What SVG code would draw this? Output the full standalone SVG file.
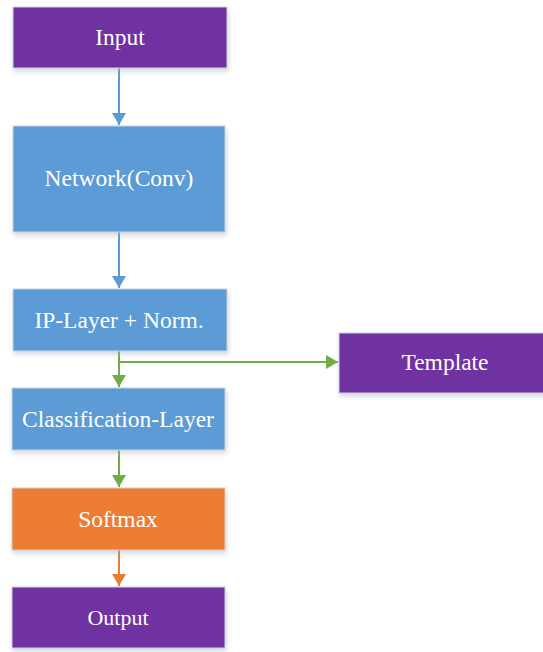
<svg xmlns="http://www.w3.org/2000/svg" width="543" height="652" viewBox="0 0 543 652">
<defs>
<filter id="sh" x="-10%" y="-10%" width="130%" height="140%">
<feDropShadow dx="1" dy="3" stdDeviation="2.5" flood-color="#9ab" flood-opacity="0.45"/>
</filter>
<marker id="ab" viewBox="0 0 12 14" refX="12" refY="7" markerWidth="12" markerHeight="14" markerUnits="userSpaceOnUse" orient="auto"><path d="M0,0 L12,7 L0,14 Z" fill="#5B9BD5"/></marker>
<marker id="ag" viewBox="0 0 12 14" refX="12" refY="7" markerWidth="12" markerHeight="14" markerUnits="userSpaceOnUse" orient="auto"><path d="M0,0 L12,7 L0,14 Z" fill="#70AD47"/></marker>
<marker id="ao" viewBox="0 0 12 14" refX="12" refY="7" markerWidth="12" markerHeight="14" markerUnits="userSpaceOnUse" orient="auto"><path d="M0,0 L12,7 L0,14 Z" fill="#ED7D31"/></marker>
</defs>
<style>
.box{stroke:#d0d4da;stroke-width:1;filter:url(#sh)}
.p{fill:#7030A0}.b{fill:#5B9BD5}.o{fill:#ED7D31}
.t{font-size:23.5px;fill:#fff;text-anchor:middle}
.c{fill:none;stroke-width:2}
</style>
<g id="connectors">
<path class="c" d="M119,68 V125" stroke="#5B9BD5" marker-end="url(#ab)"/>
<path class="c" d="M119,232 V288" stroke="#5B9BD5" marker-end="url(#ab)"/>
<path class="c" d="M119,351 V387" stroke="#70AD47" marker-end="url(#ag)"/>
<path class="c" d="M119,362 H338" stroke="#70AD47" marker-end="url(#ag)"/>
<path class="c" d="M119,450 V487" stroke="#70AD47" marker-end="url(#ag)"/>
<path class="c" d="M119,550 V586" stroke="#ED7D31" marker-end="url(#ao)"/>
</g>
<g font-family="'Liberation Serif', 'Times New Roman', serif">
<g id="input"><rect class="box p" x="13" y="7" width="214" height="61"/><text class="t" x="120" y="45">Input</text></g>
<g id="network"><rect class="box b" x="13" y="126" width="212" height="106"/><text class="t" x="119" y="186">Network(Conv)</text></g>
<g id="iplayer"><rect class="box b" x="13" y="289" width="214" height="62"/><text class="t" x="119" y="328">IP-Layer + Norm.</text></g>
<g id="template"><rect class="box p" x="339" y="333" width="210" height="60"/><text class="t" x="445" y="370">Template</text></g>
<g id="classification"><rect class="box b" x="12" y="388" width="213" height="62"/><text class="t" x="118" y="427">Classification-Layer</text></g>
<g id="softmax"><rect class="box o" x="12" y="488" width="213" height="62"/><text class="t" x="118" y="527">Softmax</text></g>
<g id="output"><rect class="box p" x="12" y="587" width="213" height="61"/><text class="t" x="118" y="625" style="font-size:22px">Output</text></g>
</g>
</svg>
